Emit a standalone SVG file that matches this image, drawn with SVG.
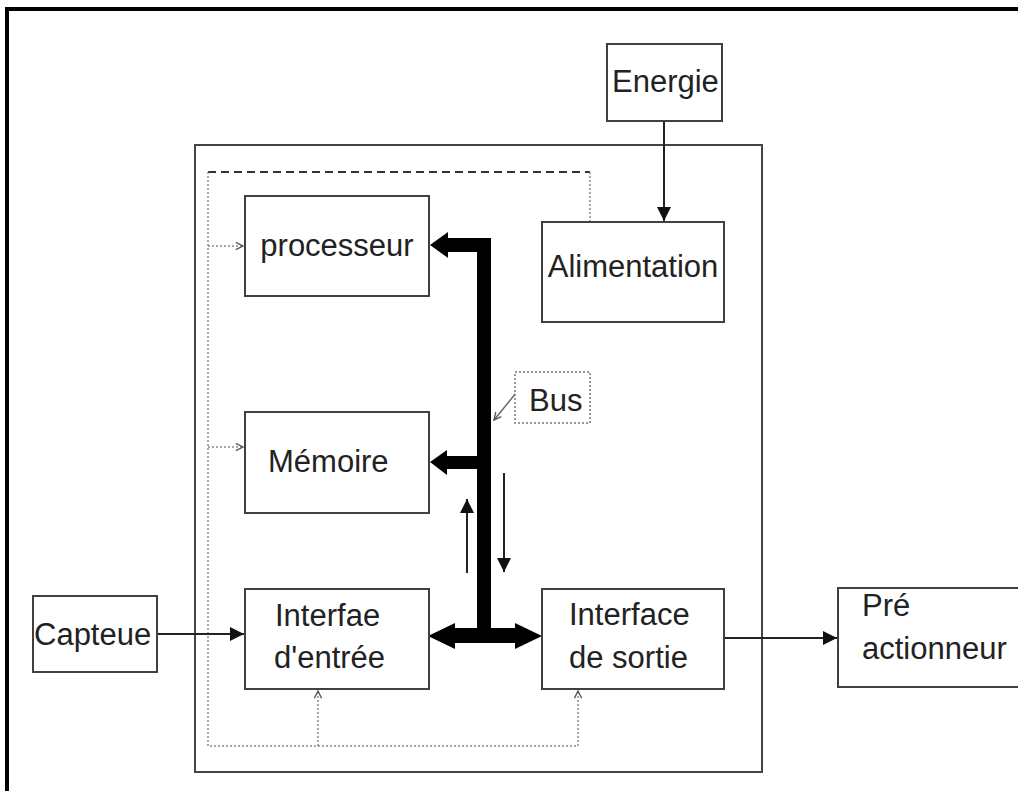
<svg xmlns="http://www.w3.org/2000/svg" width="1018" height="791" viewBox="0 0 1018 791">
  <style>
    .box { fill: #ffffff; stroke: #404040; stroke-width: 2; }
    .lbl { font-family: "Liberation Sans", Arial, sans-serif; font-size: 31px; fill: #222222; }
    .wire { fill: none; stroke: #222222; stroke-width: 2; }
    .dot { fill: none; stroke: #8a8a8a; stroke-width: 1.5; stroke-dasharray: 2 2; }
    .dash { fill: none; stroke: #333333; stroke-width: 2; stroke-dasharray: 8 5; }
    .bus { fill: #000000; }
  </style>
  <defs>
    <marker id="triL" viewBox="0 0 10 10" refX="10" refY="5" markerWidth="14" markerHeight="14" markerUnits="userSpaceOnUse" orient="auto">
      <path d="M0,0 L10,5 L0,10 z" fill="#111111"/>
    </marker>
    <marker id="chev" viewBox="0 0 10 10" refX="9" refY="5" markerWidth="9" markerHeight="9" markerUnits="userSpaceOnUse" orient="auto">
      <path d="M1,1 L9,5 L1,9" fill="none" stroke="#555555" stroke-width="1.5"/>
    </marker>
  </defs>

  <rect x="0" y="0" width="1018" height="791" fill="#ffffff"/>

  <!-- heavy page frame -->
  <path d="M7,791 V9 H1018" fill="none" stroke="#000000" stroke-width="4"/>

  <!-- controller enclosure -->
  <rect id="enclosure" x="195" y="145" width="567" height="627" fill="none" stroke="#444444" stroke-width="2"/>

  <g id="connectors">
    <!-- supply distribution loop -->
    <path class="dash" d="M208,172 H590"/>
    <path class="dot" d="M590,172 V222"/>
    <path class="dot" d="M208,172 V746 H578 V691" marker-end="url(#chev)"/>
    <path class="dot" d="M318,746 V691" marker-end="url(#chev)"/>
    <path class="dot" d="M208,246 H243" marker-end="url(#chev)"/>
    <path class="dot" d="M208,447 H243" marker-end="url(#chev)"/>

    <!-- energy feed -->
    <path class="wire" d="M664,121 V221" marker-end="url(#triL)"/>
    <!-- sensor input -->
    <path class="wire" d="M157,634 H244" marker-end="url(#triL)"/>
    <!-- output to pre-actuator -->
    <path class="wire" d="M724,638 H837" marker-end="url(#triL)"/>

    <!-- data flow direction hints -->
    <path class="wire" d="M467,573 V499" marker-end="url(#triL)"/>
    <path class="wire" d="M504,473 V572" marker-end="url(#triL)"/>

    <!-- system bus -->
    <g class="bus">
      <rect x="477" y="238" width="14" height="398"/>
      <rect x="446" y="238" width="45" height="14"/>
      <polygon points="430,245 448,232 448,258"/>
      <rect x="446" y="456" width="32" height="13"/>
      <polygon points="430,462 447,450 447,475"/>
      <rect x="452" y="628" width="66" height="15"/>
      <polygon points="428,636 455,623 455,649"/>
      <polygon points="542,636 515,623 515,649"/>
    </g>
    <!-- bus callout pointer -->
    <path d="M516,393 L494,420" fill="none" stroke="#666666" stroke-width="1.5" marker-end="url(#chev)"/>
  </g>

  <g id="energie">
    <rect class="box" x="607" y="44" width="115" height="77"/>
    <text class="lbl" x="612" y="92">Energie</text>
  </g>

  <g id="processeur">
    <rect class="box" x="245" y="196" width="184" height="100"/>
    <text class="lbl" x="337" y="256" text-anchor="middle">processeur</text>
  </g>

  <g id="alimentation">
    <rect class="box" x="542" y="222" width="182" height="100"/>
    <text class="lbl" x="633" y="277" text-anchor="middle">Alimentation</text>
  </g>

  <g id="bus-label">
    <rect x="515" y="372" width="75" height="51" fill="#ffffff" stroke="#777777" stroke-width="1.5" stroke-dasharray="2 2"/>
    <text class="lbl" x="529" y="411">Bus</text>
  </g>

  <g id="memoire">
    <rect class="box" x="245" y="412" width="184" height="101"/>
    <text class="lbl" x="268" y="472">Mémoire</text>
  </g>

  <g id="capteur">
    <rect class="box" x="33" y="596" width="124" height="76"/>
    <text class="lbl" x="34" y="645">Capteue</text>
  </g>

  <g id="interface-entree">
    <rect class="box" x="245" y="589" width="184" height="100"/>
    <text class="lbl" x="275" y="626">Interfae</text>
    <text class="lbl" x="274" y="668">d'entrée</text>
  </g>

  <g id="interface-sortie">
    <rect class="box" x="542" y="589" width="182" height="100"/>
    <text class="lbl" x="569" y="625">Interface</text>
    <text class="lbl" x="569" y="668">de sortie</text>
  </g>

  <g id="pre-actionneur">
    <rect class="box" x="838" y="588" width="190" height="99"/>
    <text class="lbl" x="862" y="616">Pré</text>
    <text class="lbl" x="862" y="659">actionneur</text>
  </g>
</svg>
